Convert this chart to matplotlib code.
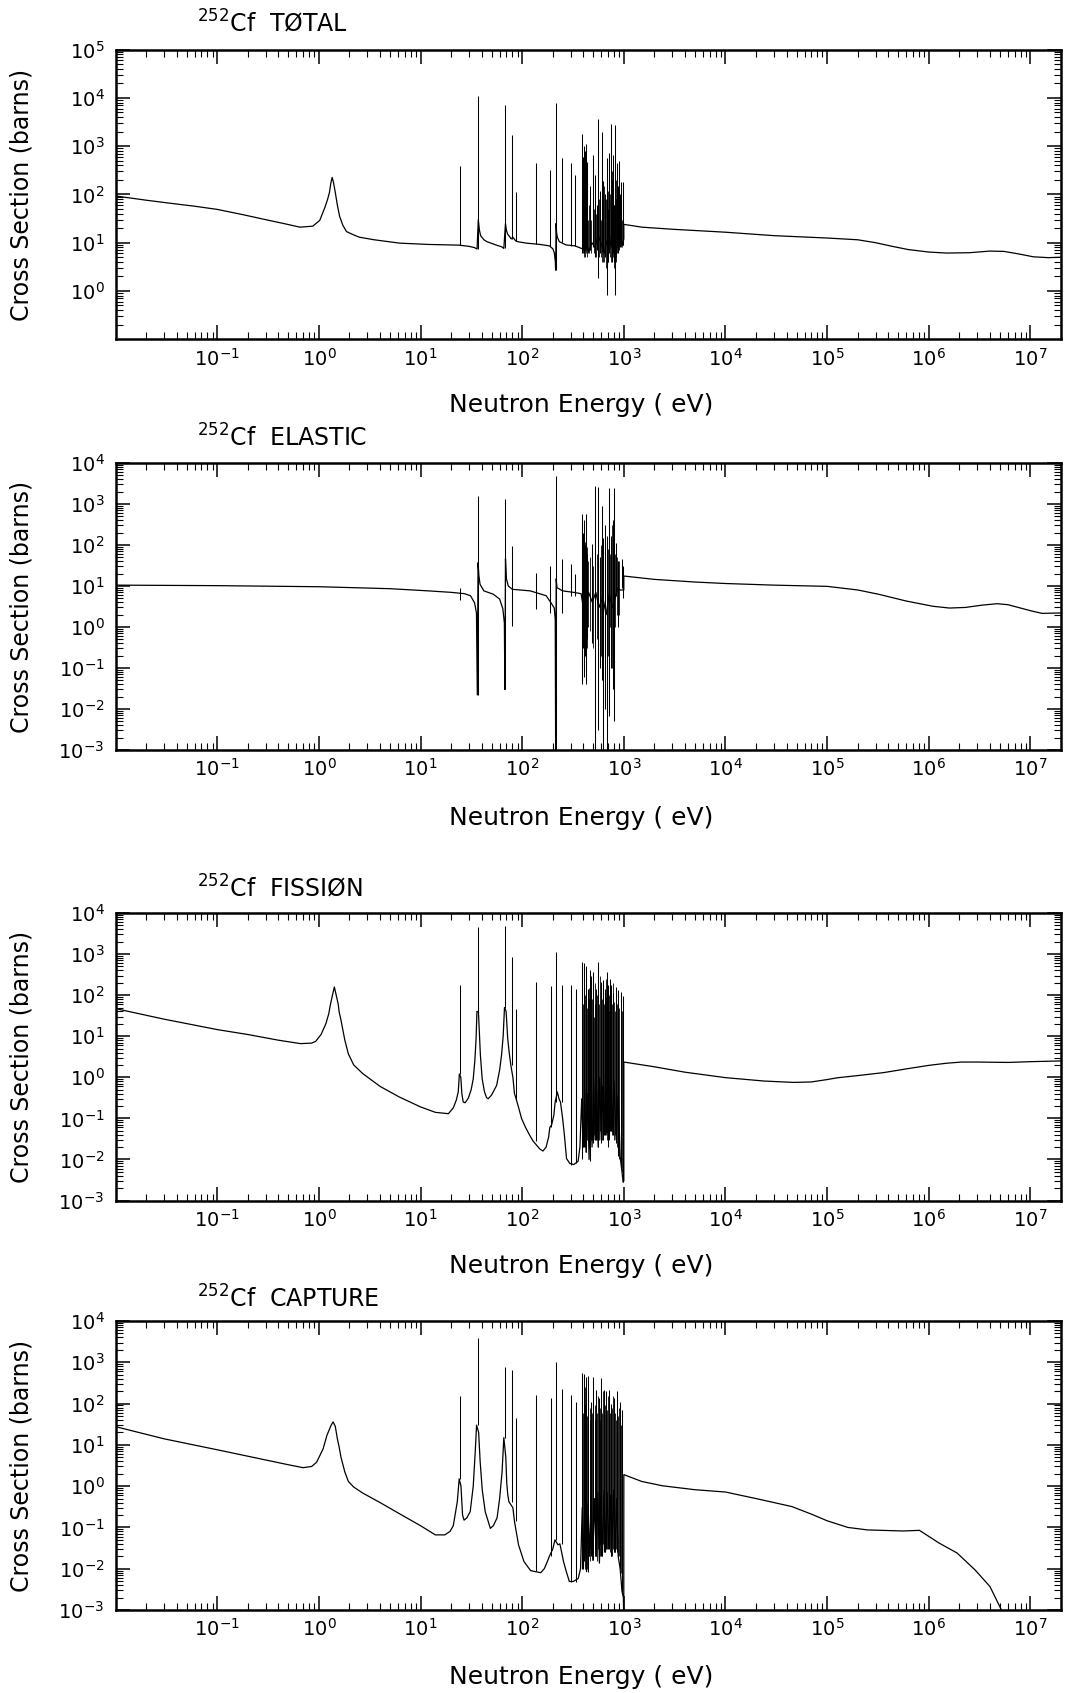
import matplotlib
matplotlib.use("Agg")
import matplotlib.pyplot as plt
from matplotlib.ticker import FixedLocator, FixedFormatter, LogLocator, NullFormatter

plt.rcParams['font.family'] = ['DejaVu Sans']
plt.rcParams['mathtext.fontset'] = 'dejavusans'
plt.rcParams['mathtext.default'] = 'regular'

# ------------------------------------------------------------------ data
titles = [r'$^{252}$Cf  TØTAL', r'$^{252}$Cf  ELASTIC', r'$^{252}$Cf  FISSIØN', r'$^{252}$Cf  CAPTURE']
x_label = 'Neutron Energy ( eV)'
y_label = 'Cross Section (barns)'

x_ticks = [1e-1, 1e0, 1e1, 1e2, 1e3, 1e4, 1e5, 1e6, 1e7]
x_tick_labels = [r'$10^{-1}$', r'$10^{0}$', r'$10^{1}$', r'$10^{2}$', r'$10^{3}$',
                 r'$10^{4}$', r'$10^{5}$', r'$10^{6}$', r'$10^{7}$']
y_ticks_total = [1e0, 1e1, 1e2, 1e3, 1e4, 1e5]
y_tick_labels_total = [r'$10^{0}$', r'$10^{1}$', r'$10^{2}$', r'$10^{3}$', r'$10^{4}$', r'$10^{5}$']
y_ticks_other = [1e-3, 1e-2, 1e-1, 1e0, 1e1, 1e2, 1e3, 1e4]
y_tick_labels_other = [r'$10^{-3}$', r'$10^{-2}$', r'$10^{-1}$', r'$10^{0}$', r'$10^{1}$',
                       r'$10^{2}$', r'$10^{3}$', r'$10^{4}$']

# --- TOTAL: smooth curve (energy eV, barns)
tot_E = [0.01, 0.02, 0.032, 0.06, 0.1, 0.18, 0.3, 0.45, 0.65, 0.87, 1.02, 1.15, 1.22, 1.27, 1.31,
         1.35, 1.39, 1.45, 1.52, 1.6, 1.72, 1.87, 2.2, 2.5, 3.5, 6.2, 12, 24, 25, 30,
         34, 36, 37, 38, 39, 42, 45, 55, 63, 66, 68.5, 70, 72, 76, 78,
         81, 86, 90, 110, 150, 185, 200, 207, 212, 213.5, 215.5, 218, 222, 232, 270,
         330, 390, 420, 450, 485, 520, 560, 600, 640, 680, 720, 760, 800, 850, 890,
         930, 970, 1000, 1000.1, 1500, 3000, 1e4, 3e4, 1e5, 2e5, 3e5, 4.5e5, 6.3e5, 1e6, 1.5e6,
         2.5e6, 4e6, 5.5e6, 7.5e6, 1.07e7, 1.5e7, 2e7]
tot_S = [93, 76, 67, 57, 49, 38, 30, 25, 21, 22, 29, 55, 80, 110, 170,
         225, 180, 110, 60, 35, 23, 17, 14.5, 13, 11.5, 9.8, 9.2, 8.9, 8.8, 8.4,
         7.9, 7.4, 30, 18, 14, 11.5, 10.5, 9.0, 8.2, 7.6, 25, 18, 15, 13, 12,
         13, 11, 10.5, 9.8, 9.2, 8.6, 7.5, 6.2, 4, 2.7, 25, 16, 13, 10.5, 9.0,
         8.6, 7.5, 12, 6.5, 10, 8.0, 14, 9.5, 6, 11, 7, 15, 8, 12, 7,
         14, 9, 12, 24, 21, 19, 16.5, 14, 12.5, 11.5, 10, 8.3, 7.2, 6.4, 6.1,
         6.2, 6.7, 6.6, 5.9, 5.1, 4.9, 5.0]
# --- TOTAL: narrow resonances (energy, lowest, highest)
tot_res_E = [24.5, 36.5, 68, 79, 87, 137, 189, 214.5, 244, 305, 334, 392, 400, 406, 414, 422, 430,
             438, 460, 494, 521, 545, 561, 580, 605, 628, 650, 677, 700, 713, 741, 760, 775, 795,
             816, 848, 870, 893, 920, 948, 980]
tot_res_lo = [8.9, 7.4, 7.6, 12, 11, 9.5, 8.7, 2.7, 10.5, 8.6, 8.6, 6.2, 7, 6.5, 7, 7.5, 7,
              7.5, 7, 8, 5, 7, 1.9, 6, 6.5, 7, 5, 0.83, 4, 6, 8, 4, 6, 4,
              0.83, 9, 6, 9, 8, 9, 9]
tot_res_hi = [380, 11000, 7100, 1700, 115, 440, 325, 7900, 580, 440, 250, 1750, 600, 1000, 800, 1100, 300,
              470, 150, 650, 250, 60, 3600, 120, 1950, 190, 100, 560, 50, 710, 2950, 200, 650, 60,
              2750, 450, 150, 500, 100, 180, 180]
tot_fine_E = [397, 403, 410, 418, 426, 434, 445, 452, 470, 480, 510, 535, 553, 570, 590, 615, 620,
              640, 665, 690, 705, 725, 750, 768, 785, 805, 830, 840, 860, 880, 905, 935, 965, 990]
tot_fine_lo = [6, 5, 6, 5, 6, 5, 6, 6, 7, 6, 6, 5, 5, 5, 5, 4, 4, 4, 3, 4, 4, 5, 4, 5, 5, 3, 5, 4, 6, 7, 7, 8, 8, 9]
tot_fine_hi = [40, 90, 60, 200, 80, 120, 30, 60, 40, 30, 50, 40, 300, 80, 30, 90, 60, 150, 80, 40, 120, 100,
               80, 300, 120, 60, 80, 200, 40, 60, 30, 40, 30, 30]

# --- ELASTIC
el_E = [0.01, 0.1, 1, 5, 12, 20, 27, 31, 34, 35.5, 36.2, 36.8, 37.5, 38.5, 42,
        52, 60, 64.5, 66.8, 67.6, 68.5, 70, 73, 80, 120, 172, 192, 207, 211.5, 213.5,
        216, 220, 250, 320, 380, 410, 450, 490, 530, 570, 620, 670, 720, 770, 820,
        870, 920, 1000, 1000.1, 2000, 5000, 1e4, 3e4, 1e5, 2e5, 3.2e5, 6e5, 1.1e6, 1.6e6, 2.3e6,
        3.3e6, 4.7e6, 6e6, 7.6e6, 1e7, 1.3e7, 2e7]
el_S = [10.5, 10.2, 9.6, 8.6, 7.6, 7.0, 6.5, 5.8, 3.9, 2.2, 0.022, 37, 18, 11, 7.6,
        6.3, 4.8, 2.8, 1.26, 0.03, 46, 15, 10, 8.3, 7.6, 5.8, 3.9, 2.9, 1.5, 0.0008,
        15, 9.1, 7.6, 7.0, 6.5, 2, 7, 4, 7, 3, 5.5, 2, 6.5, 3, 5,
        9, 8, 8, 17.5, 14.5, 12.5, 11.5, 10.5, 9.8, 8, 6.3, 4.3, 3.2, 2.9, 3.0,
        3.4, 3.7, 3.5, 3.0, 2.5, 2.15, 2.2]
el_res_E = [24.5, 36.5, 68, 79, 137, 189, 214.5, 244, 302, 334, 385, 392, 400, 408, 415, 425, 435,
            485, 524, 556, 580, 606, 630, 650, 680, 716, 750, 780, 805, 845, 880, 950, 980]
el_res_lo = [4.6, 0.022, 0.03, 1.05, 2.7, 2.2, 0.0008, 2.2, 5.8, 5.8, 0.04, 0.1, 0.3, 0.06, 0.2, 0.04, 0.5,
             0.4, 0.0008, 0.003, 0.1, 0.05, 0.0008, 0.01, 0.0008, 0.0066, 0.1, 0.03, 0.005, 5.8, 1, 9, 5]
el_res_hi = [9.1, 1590, 1350, 96, 21, 31, 4900, 46, 35, 20, 565, 300, 200, 400, 100, 565, 60,
             105, 2800, 2600, 50, 900, 150, 300, 166, 2500, 166, 400, 2400, 115, 40, 46, 30]
el_fine_E = [388, 395, 404, 412, 420, 430, 440, 460, 500, 540, 600, 660, 700, 730, 760, 790, 820, 860, 900]
el_fine_lo = [0.3, 0.5, 0.2, 0.4, 0.1, 0.3, 1, 0.8, 0.3, 0.5, 0.2, 0.3, 0.2, 1, 0.1, 0.5, 1, 2, 2]
el_fine_hi = [150, 80, 250, 120, 300, 90, 40, 50, 30, 60, 100, 200, 80, 60, 300, 120, 60, 50, 40]

# --- FISSION
fi_E = [0.01, 0.03, 0.1, 0.2, 0.4, 0.66, 0.85, 0.93, 1.05, 1.17, 1.25, 1.3, 1.36, 1.42, 1.48,
        1.55, 1.58, 1.65, 1.8, 1.95, 2.2, 2.7, 4, 6.2, 10, 14, 18.8, 21, 22.5, 23.5,
        24.1, 24.9, 25.5, 26.3, 27.5, 29.5, 31.5, 33, 34.2, 35.2, 35.9, 37.1, 37.9, 38.8, 40.4,
        42.5, 44.6, 46.3, 50, 56, 60, 62.6, 65, 67, 69.5, 72, 74.5, 77.4, 81, 84,
        86.5, 89, 93, 98.5, 108, 119, 128, 149, 160, 172, 182, 187, 195, 205, 211,
        222, 230, 238, 250, 260, 273, 294, 322, 355, 370, 385, 398, 412, 425, 440,
        455, 470, 487, 505, 522, 540, 560, 580, 600, 620, 640, 660, 680, 700, 720,
        745, 770, 800, 840, 880, 920, 950, 985, 1000, 1000.1, 2000, 4000, 1e4, 2.4e4, 4.7e4,
        7e4, 1e5, 1.25e5, 2e5, 3.6e5, 6e5, 1e6, 1.5e6, 2.1e6, 3e6, 6.1e6, 1e7, 2e7]
fi_S = [47, 26, 14.5, 11, 8, 6.6, 6.8, 7.5, 11, 20, 35, 60, 100, 158, 100,
        60, 40, 24.5, 8, 3.7, 2.0, 1.23, 0.6, 0.33, 0.19, 0.14, 0.13, 0.18, 0.28, 0.44,
        1.2, 1.0, 0.4, 0.25, 0.24, 0.31, 0.5, 0.92, 2.5, 8.7, 40, 40, 12.5, 3.5, 0.92,
        0.45, 0.32, 0.3, 0.37, 0.63, 1.5, 3.4, 10, 50, 40, 9, 4, 1.95, 1.0, 0.4,
        0.32, 0.25, 0.17, 0.1, 0.06, 0.038, 0.028, 0.018, 0.016, 0.02, 0.035, 0.06, 0.07, 0.12, 0.25,
        0.44, 0.3, 0.25, 0.1, 0.04, 0.0105, 0.008, 0.0075, 0.009, 0.02, 0.3, 0.02, 0.5, 0.015, 0.4,
        0.01, 0.6, 0.02, 0.8, 0.03, 0.5, 0.02, 1.0, 0.03, 0.6, 0.04, 1.2, 0.045, 0.7, 0.03,
        1.0, 0.05, 0.8, 0.03, 0.4, 0.012, 0.006, 0.0028, 0.003, 2.35, 1.8, 1.33, 0.98, 0.81, 0.75,
        0.77, 0.88, 0.97, 1.1, 1.3, 1.6, 1.95, 2.2, 2.35, 2.35, 2.3, 2.4, 2.5]
fi_res_E = [24.5, 36.5, 68, 79.5, 87.5, 137, 190, 215, 244, 302, 336, 389, 407, 429, 445,
            463, 480, 499, 530, 559, 594, 625, 649, 676, 702, 729, 755, 785, 830, 880, 935, 985]
fi_res_lo = [1.2, 40, 50, 1.95, 0.3, 0.028, 0.06, 0.25, 0.25, 0.0075, 0.008, 0.0105, 0.02, 0.015, 0.03,
             0.009, 0.03, 0.025, 0.03, 0.02, 0.025, 0.03, 0.04, 0.045, 0.02, 0.05, 0.05, 0.04, 0.025, 0.012, 0.006, 0.0028]
fi_res_hi = [174, 4570, 4700, 850, 47, 210, 165, 1120, 174, 180, 145, 630, 590, 520, 145,
             420, 300, 360, 145, 630, 210, 230, 145, 360, 174, 250, 174, 110, 155, 130, 120, 95]
fi_fine_E = [395, 402, 415, 422, 437, 452, 455, 470, 475, 490, 508, 515, 520, 545, 552, 575, 585, 610,
             617, 637, 662, 669, 690, 715, 722, 742, 770, 778, 808, 815, 855, 868, 905, 960]
fi_fine_lo = [0.02, 0.03, 0.02, 0.04, 0.03, 0.02, 0.02, 0.03, 0.05, 0.03, 0.04, 0.03, 0.05, 0.03, 0.06, 0.03,
              0.05, 0.03, 0.05, 0.04, 0.04, 0.06, 0.03, 0.04, 0.06, 0.05, 0.04, 0.05, 0.03, 0.04, 0.02, 0.03, 0.01, 0.005]
fi_fine_hi = [60, 200, 100, 40, 50, 150, 80, 40, 250, 80, 30, 60, 200, 100, 40, 60, 300, 80,
              40, 60, 90, 250, 70, 100, 40, 80, 60, 200, 70, 40, 60, 100, 50, 40]

# --- CAPTURE
ca_E = [0.01, 0.03, 0.1, 0.3, 0.5, 0.7, 0.85, 0.95, 1.1, 1.2, 1.32, 1.38, 1.45, 1.52, 1.58,
        1.65, 1.8, 1.95, 2.2, 2.7, 4, 6.1, 10, 14, 17.3, 19.5, 21, 23, 24.0, 25.0,
        25.9, 26.8, 28.5, 30.8, 33, 34.4, 35.6, 37.3, 38.6, 40.5, 43.3, 48.6, 52, 56.6, 60,
        63.4, 66, 69, 70.5, 72.2, 74, 81, 84, 92, 104, 121, 152, 165, 177, 185,
        200, 210, 225, 235, 255, 270, 291, 318, 356, 375, 390, 400, 415, 430, 445,
        460, 480, 495, 515, 535, 555, 575, 595, 615, 640, 660, 685, 710, 735, 760,
        790, 820, 850, 880, 920, 960, 990, 999, 1000.1, 1500, 2400, 5000, 1e4, 2e4, 4.5e4,
        7e4, 1e5, 1.6e5, 2.5e5, 5.6e5, 8.1e5, 1.26e6, 1.9e6, 2.86e6, 4e6, 5.3e6, 6.5e6]
ca_S = [27.6, 14, 7.6, 4.3, 3.3, 2.8, 3.0, 3.8, 8, 17, 30, 36, 28, 14, 9,
        5, 2.2, 1.3, 0.95, 0.68, 0.4, 0.22, 0.11, 0.066, 0.066, 0.08, 0.11, 0.42, 1.5, 1.0,
        0.2, 0.15, 0.17, 0.24, 1.0, 5.8, 30, 20, 3.9, 0.8, 0.24, 0.095, 0.11, 0.17, 0.5,
        2.2, 15, 5, 1.2, 0.61, 0.42, 0.3, 0.14, 0.038, 0.015, 0.009, 0.008, 0.01, 0.015, 0.02,
        0.03, 0.05, 0.038, 0.04, 0.015, 0.009, 0.0049, 0.0049, 0.0058, 0.01, 0.3, 0.01, 0.5, 0.0085, 0.4,
        0.02, 0.6, 0.016, 0.5, 0.02, 0.7, 0.014, 0.6, 0.02, 0.8, 0.025, 0.7, 0.03, 0.6, 0.02,
        0.8, 0.025, 0.5, 0.02, 0.01, 0.0028, 0.002, 0.0005, 1.9, 1.3, 1.02, 0.82, 0.72, 0.5, 0.32,
        0.21, 0.145, 0.1, 0.087, 0.082, 0.085, 0.042, 0.024, 0.0093, 0.0037, 0.0009, 0.0003]
ca_res_E = [24.5, 36.5, 68, 79.5, 87.5, 137, 190, 215, 244, 302, 336, 392, 407, 426,
            449, 473, 503, 531, 565, 596, 634, 672, 708, 753, 794, 858, 910, 960]
ca_res_lo = [1.5, 30, 15, 0.42, 0.14, 0.009, 0.02, 0.05, 0.04, 0.0049, 0.0049, 0.01, 0.015, 0.01,
             0.0085, 0.02, 0.016, 0.02, 0.014, 0.02, 0.025, 0.03, 0.03, 0.02, 0.025, 0.025, 0.01, 0.0028]
ca_res_hi = [152, 3800, 790, 660, 44, 165, 135, 1030, 225, 165, 112, 540, 510, 450,
             470, 112, 450, 210, 135, 420, 210, 200, 210, 100, 135, 200, 112, 71]
ca_fine_E = [399, 411, 416, 437, 443, 460, 465, 488, 495, 517, 523, 548, 556, 580, 587, 615, 622,
             653, 661, 690, 698, 730, 740, 773, 783, 825, 835, 885, 895, 935]
ca_fine_lo = [0.01, 0.02, 0.01, 0.01, 0.02, 0.015, 0.03, 0.02, 0.03, 0.02, 0.03, 0.015, 0.03, 0.02, 0.04,
              0.025, 0.04, 0.03, 0.05, 0.03, 0.04, 0.025, 0.04, 0.02, 0.03, 0.025, 0.03, 0.02, 0.02, 0.008]
ca_fine_hi = [60, 250, 100, 50, 200, 80, 40, 60, 250, 90, 40, 60, 150, 80, 40, 60, 200,
              90, 40, 70, 150, 60, 40, 80, 150, 60, 40, 50, 80, 30]

# ------------------------------------------------------------------ figure
W, H = 1065, 1693
fig = plt.figure(figsize=(W / 100, H / 100), dpi=100)

def fx(px):
    return px / W

def fy(py):
    return 1 - py / H

# (left, top, right, bottom) in pixels
boxes = [(115.6, 49.7, 1061, 339.2), (115.6, 463, 1061, 750),
         (115.6, 913, 1061, 1200.5), (115.6, 1321, 1061, 1610)]
title_y = [24, 438, 888, 1299]
xlabel_y = [405, 818, 1266, 1677]

panels = [
    (tot_E, tot_S, tot_res_E, tot_res_lo, tot_res_hi, tot_fine_E, tot_fine_lo, tot_fine_hi,
     (0.1, 1e5), y_ticks_total, y_tick_labels_total),
    (el_E, el_S, el_res_E, el_res_lo, el_res_hi, el_fine_E, el_fine_lo, el_fine_hi,
     (1e-3, 1e4), y_ticks_other, y_tick_labels_other),
    (fi_E, fi_S, fi_res_E, fi_res_lo, fi_res_hi, fi_fine_E, fi_fine_lo, fi_fine_hi,
     (1e-3, 1e4), y_ticks_other, y_tick_labels_other),
    (ca_E, ca_S, ca_res_E, ca_res_lo, ca_res_hi, ca_fine_E, ca_fine_lo, ca_fine_hi,
     (1e-3, 1e4), y_ticks_other, y_tick_labels_other),
]

for i, (E, S, rE, rlo, rhi, fE, flo, fhi, ylim, yt, ytl) in enumerate(panels):
    l, t, r, b = boxes[i]
    ax = fig.add_axes([fx(l), fy(b), (r - l) / W, (b - t) / H])
    ax.set_xscale('log')
    ax.set_yscale('log')
    ax.plot(E, S, color='black', lw=0.9)
    ax.vlines(rE, rlo, rhi, colors='black', lw=0.75)
    ax.vlines(fE, flo, fhi, colors='black', lw=0.6)
    ax.set_xlim(0.01, 2e7)
    ax.set_ylim(*ylim)

    ax.xaxis.set_major_locator(FixedLocator(x_ticks))
    ax.xaxis.set_major_formatter(FixedFormatter(x_tick_labels))
    ax.xaxis.set_minor_locator(LogLocator(base=10, subs=range(2, 10), numticks=50))
    ax.xaxis.set_minor_formatter(NullFormatter())
    ax.yaxis.set_major_locator(FixedLocator(yt))
    ax.yaxis.set_major_formatter(FixedFormatter(ytl))
    ax.yaxis.set_minor_locator(LogLocator(base=10, subs=range(2, 10), numticks=50))
    ax.yaxis.set_minor_formatter(NullFormatter())

    ax.tick_params(which='major', direction='in', top=True, right=True,
                   length=10, width=1.1, labelsize=14, color='black')
    ax.tick_params(which='minor', direction='in', top=True, right=True,
                   length=5, width=0.8, color='black')
    ax.tick_params(axis='x', which='major', pad=6)
    ax.tick_params(axis='y', which='major', pad=8)
    for sp in ax.spines.values():
        sp.set_linewidth(1.8)
        sp.set_color('black')

    fig.text(fx(197), fy(title_y[i]), titles[i], ha='left', va='center', fontsize=17)
    fig.text(fx(581), fy(xlabel_y[i]), x_label, ha='center', va='center', fontsize=18)
    fig.text(fx(22), fy((t + b) / 2), y_label, ha='center', va='center',
             rotation=90, fontsize=17)

fig.savefig('out.png', dpi=100)
